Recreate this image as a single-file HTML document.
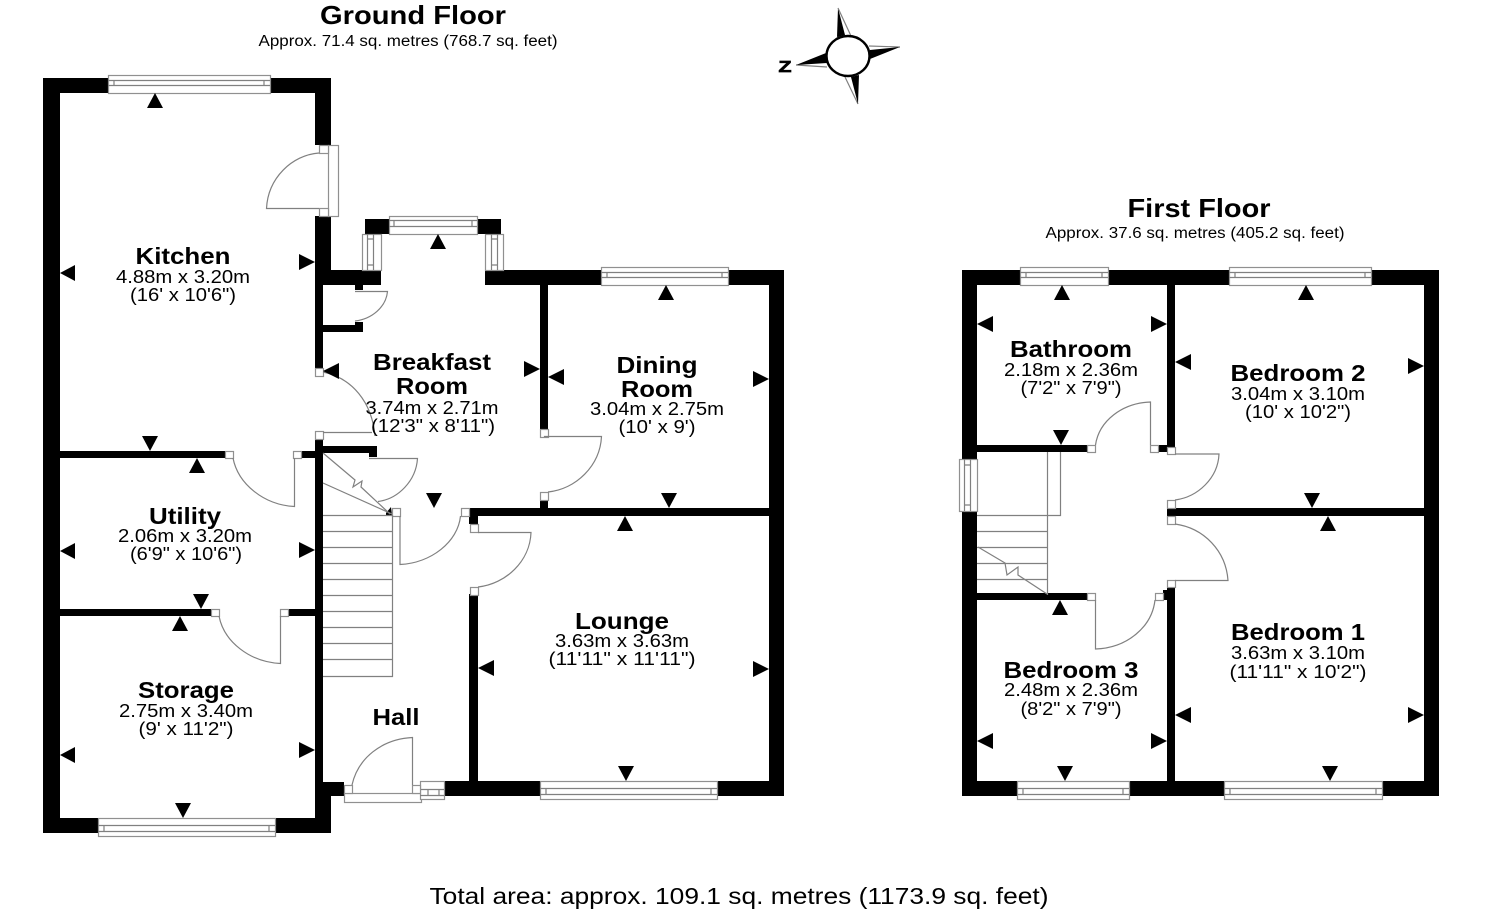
<!DOCTYPE html>
<html><head><meta charset="utf-8"><title>Floor plan</title>
<style>
html,body{margin:0;padding:0;background:#fff}
svg{display:block}
text{font-family:"Liberation Sans",Arial,sans-serif;fill:#000;text-anchor:middle}
.t{font-weight:bold;font-size:26px}
.s{font-size:15.5px}
.n{font-weight:bold;font-size:23.5px}
.d{font-size:18px}
.g{fill:none;stroke:#808080;stroke-width:1.2}
.w{fill:#fff;stroke:#909090;stroke-width:1.2}
</style></head><body>
<svg width="1488" height="912" viewBox="0 0 1488 912" xmlns="http://www.w3.org/2000/svg">
<rect width="1488" height="912" fill="#fff"/>

<!-- Ground floor walls -->
<g fill="#000">
<rect x="43" y="78" width="65" height="15"/>
<rect x="270" y="78" width="61" height="15"/>
<rect x="43" y="78" width="17" height="755"/>
<rect x="315" y="78" width="16" height="67"/>
<rect x="315" y="216" width="16" height="69"/>
<rect x="315" y="270" width="66" height="15"/>
<rect x="355" y="285" width="8" height="5"/>
<rect x="315" y="285" width="8" height="83"/>
<rect x="323" y="325" width="40" height="7"/>
<rect x="355" y="322" width="8" height="10"/>
<rect x="365" y="219" width="24" height="15"/>
<rect x="477" y="219" width="24" height="15"/>
<rect x="485" y="270" width="116" height="15"/>
<rect x="728" y="270" width="56" height="15"/>
<rect x="769" y="270" width="15" height="526"/>
<rect x="445" y="781" width="95" height="15"/>
<rect x="717" y="781" width="67" height="15"/>
<rect x="469" y="594" width="9" height="187"/>
<rect x="469" y="508" width="300" height="8"/>
<rect x="469" y="516" width="9" height="8"/>
<rect x="540" y="285" width="8" height="144"/>
<rect x="540" y="500" width="8" height="8"/>
<rect x="315" y="439" width="8" height="343"/>
<rect x="323" y="446" width="54" height="7"/>
<rect x="369" y="453" width="8" height="4"/>
<rect x="60" y="451" width="165" height="7"/>
<rect x="301" y="451" width="14" height="7"/>
<rect x="60" y="609" width="151" height="7"/>
<rect x="288" y="609" width="27" height="7"/>
<rect x="315" y="782" width="29" height="14"/>
<rect x="315" y="782" width="16" height="51"/>
<rect x="43" y="818" width="55" height="15"/>
<rect x="275" y="818" width="56" height="15"/>
<polygon points="386,513 391,507 392,515 386,515"/>
</g>

<!-- First floor walls -->
<g fill="#000">
<rect x="962" y="270" width="15" height="189"/>
<rect x="962" y="511" width="15" height="285"/>
<rect x="962" y="270" width="58" height="15"/>
<rect x="1108" y="270" width="121" height="15"/>
<rect x="1371" y="270" width="68" height="15"/>
<rect x="1424" y="270" width="15" height="526"/>
<rect x="962" y="781" width="55" height="15"/>
<rect x="1129" y="781" width="95" height="15"/>
<rect x="1382" y="781" width="57" height="15"/>
<rect x="1167" y="285" width="8" height="162"/>
<rect x="977" y="445" width="110" height="7"/>
<rect x="1158" y="445" width="9" height="7"/>
<rect x="1167" y="508" width="257" height="8"/>
<rect x="1167" y="587" width="8" height="194"/>
<rect x="1163" y="590" width="4" height="10"/>
<rect x="977" y="593" width="110" height="7"/>
</g>

<!-- Windows -->
<g class="w">
<rect x="108.500" y="75.500" width="162" height="18"/>
<rect x="389.500" y="216.500" width="88" height="18"/>
<rect x="601.500" y="267.500" width="127" height="18"/>
<rect x="540.500" y="781.500" width="177" height="18"/>
<rect x="98.500" y="818.500" width="177" height="18"/>
<rect x="1020.500" y="267.500" width="88" height="18"/>
<rect x="1229.500" y="267.500" width="142" height="18"/>
<rect x="1017.500" y="781.500" width="112" height="18"/>
<rect x="1224.500" y="781.500" width="158" height="18"/>
<rect x="959.500" y="459.500" width="18" height="52"/>
<rect x="362.500" y="234.500" width="19" height="36"/>
<rect x="485.500" y="234.500" width="18" height="36"/>
<rect x="328.500" y="145.500" width="10" height="71"/>
<rect x="344.500" y="793.500" width="77" height="9"/>
<rect x="420.500" y="781.500" width="24" height="18"/>
</g>
<g class="g">
<path d="M108 80.500H270M108 85.500H270M114 80.500V85.500M264 80.500V85.500"/>
<path d="M389 220.500H477M389 226.500H477M394 220.500V226.500M472 220.500V226.500"/>
<path d="M601 272.500H728M601 277.500H728M607 272.500V277.500M722 272.500V277.500"/>
<path d="M540 788.500H717M540 794.500H717M546 788.500V794.500M711 788.500V794.500"/>
<path d="M98 825.500H275M98 831.500H275M104 825.500V831.500M269 825.500V831.500"/>
<path d="M1020 272.500H1108M1020 277.500H1108M1026 272.500V277.500M1102 272.500V277.500"/>
<path d="M1229 272.500H1371M1229 277.500H1371M1235 272.500V277.500M1365 272.500V277.500"/>
<path d="M1017 788.500H1129M1017 794.500H1129M1023 788.500V794.500M1123 788.500V794.500"/>
<path d="M1224 788.500H1382M1224 794.500H1382M1230 788.500V794.500M1376 788.500V794.500"/>
<path d="M964.500 459V511M970.500 459V511M964.500 465H970.500M964.500 505H970.500"/>
<path d="M367.500 234V270M373.500 234V270M367.500 239H373.500M367.500 265H373.500"/>
<path d="M491.500 234V270M497.500 234V270M491.500 239H497.500M491.500 265H497.500"/>
<path d="M420 789.500H444M420 795.500H444M428 789.500V795.500M439 789.500V795.500"/>
</g>

<!-- Door jamb squares -->
<g class="w">
<rect x="319.500" y="145.500" width="9" height="8"/>
<rect x="319.500" y="208.500" width="9" height="8"/>
<rect x="315.500" y="368.500" width="8" height="8"/>
<rect x="315.500" y="431.500" width="8" height="8"/>
<rect x="392.500" y="508.500" width="8" height="8"/>
<rect x="461.500" y="508.500" width="8" height="8"/>
<rect x="470.500" y="524.500" width="8" height="8"/>
<rect x="470.500" y="587.500" width="8" height="8"/>
<rect x="540.500" y="429.500" width="8" height="8"/>
<rect x="540.500" y="492.500" width="8" height="8"/>
<rect x="225.500" y="451.500" width="8" height="7"/>
<rect x="293.500" y="451.500" width="8" height="7"/>
<rect x="211.500" y="609.500" width="8" height="7"/>
<rect x="280.500" y="609.500" width="8" height="7"/>
<rect x="344.500" y="785.500" width="8" height="8"/>
<rect x="412.500" y="785.500" width="8" height="8"/>
<rect x="1087.500" y="445.500" width="8" height="7"/>
<rect x="1150.500" y="445.500" width="8" height="7"/>
<rect x="1167.500" y="447.500" width="8" height="7"/>
<rect x="1167.500" y="500.500" width="8" height="8"/>
<rect x="1167.500" y="516.500" width="8" height="8"/>
<rect x="1167.500" y="580.500" width="8" height="7"/>
<rect x="1155.500" y="593.500" width="8" height="7"/>
<rect x="1087.500" y="593.500" width="8" height="7"/>
</g>

<!-- Door swings -->
<g class="g">
<path d="M319 208.500H266.500C268 178 292 155 319 153"/>
<path d="M355 291.500H387.500C386 307 372 319 355 321"/>
<path d="M323 372C352 378 372 402 375 436M323 432.500H372"/>
<path d="M369 458.500H417.500C416 481 398 499 378 501.500"/>
<path d="M544.500 437V436.500H601.500C600 466 576 489 548 492"/>
<path d="M478 532.500H531C530 561 506 584 478 587"/>
<path d="M400 516V564.500C431 563 458 542 460.500 516"/>
<path d="M233 458C238 484 264 505 294.500 506.500V458"/>
<path d="M219 616C224 642 250 662 280.500 663.500V616"/>
<path d="M352 785C358 758 382 739 412.500 737.500V785"/>
<path d="M1095.500 445C1099 421 1122 403 1150.500 402V445"/>
<path d="M1175 454H1219C1218 478 1198 497 1175 500"/>
<path d="M1175 524C1204 528 1226 551 1228 580.500H1175"/>
<path d="M1095.500 600V649C1127 648 1152 627 1155 600"/>
</g>

<!-- Stairs -->
<g class="g">
<path d="M392.500 515V676.500H323"/>
<path d="M323 531.500H392M323 547.500H392M323 563.500H392M323 579.500H392M323 595.500H392M323 611.500H392M323 627.500H392M323 643.500H392M323 659.500H392M323 515.500H392"/>
<path d="M323 453L355 480L353 487L362 481L361 487L390 514"/>
<path d="M323 483L392 514"/>
<path d="M1047.500 452V595M1060.500 452V515.500H977M977 531.500H1047M977 547.500H1047M977 563.500H1047M977 579.500H1047"/>
<path d="M978 547L1005 563L1007 575L1018 567L1018 575L1047 594"/>
</g>

<!-- Dimension arrows -->
<g fill="#000">
<polygon points="155,93 147,108 163,108"/>
<polygon points="60,273 75,265 75,281"/>
<polygon points="315,262 299,254 299,270"/>
<polygon points="150,451 142,436 158,436"/>
<polygon points="197,458 189,473 205,473"/>
<polygon points="60,551 75,543 75,559"/>
<polygon points="315,550 299,542 299,558"/>
<polygon points="201,609 193,594 209,594"/>
<polygon points="180,616 172,631 188,631"/>
<polygon points="60,755 75,747 75,763"/>
<polygon points="315,750 299,742 299,758"/>
<polygon points="183,818 175,803 191,803"/>
<polygon points="438,234 430,249 446,249"/>
<polygon points="323,371 339,363 339,379"/>
<polygon points="540,369 524,361 524,377"/>
<polygon points="548,377 564,369 564,385"/>
<polygon points="434,508 426,493 442,493"/>
<polygon points="666,285 658,300 674,300"/>
<polygon points="769,379 753,371 753,387"/>
<polygon points="669,508 661,493 677,493"/>
<polygon points="625,516 617,531 633,531"/>
<polygon points="478,668 494,660 494,676"/>
<polygon points="769,669 753,661 753,677"/>
<polygon points="626,781 618,766 634,766"/>
<polygon points="1062,285 1054,300 1070,300"/>
<polygon points="977,324 993,316 993,332"/>
<polygon points="1167,324 1151,316 1151,332"/>
<polygon points="1061,445 1053,430 1069,430"/>
<polygon points="1306,285 1298,300 1314,300"/>
<polygon points="1175,362 1191,354 1191,370"/>
<polygon points="1424,366 1408,358 1408,374"/>
<polygon points="1312,508 1304,493 1320,493"/>
<polygon points="1328,516 1320,531 1336,531"/>
<polygon points="1175,715 1191,707 1191,723"/>
<polygon points="1424,715 1408,707 1408,723"/>
<polygon points="1330,781 1322,766 1338,766"/>
<polygon points="1060,600 1052,615 1068,615"/>
<polygon points="977,741 993,733 993,749"/>
<polygon points="1167,741 1151,733 1151,749"/>
<polygon points="1065,781 1057,766 1073,766"/>
</g>

<!-- Compass -->
<g>
<polygon points="838,8 837,37 845,35" fill="#000"/>
<path d="M838,8L851,36M900,47L869,46M858,104L845,77M796,65L827,67" fill="none" stroke="#808080" stroke-width="1.2"/>
<polygon points="900,47 870,50 870,59" fill="#000"/>
<polygon points="858,104 859,75 851,77" fill="#000"/>
<polygon points="796,65 826,53 827,63" fill="#000"/>
<ellipse cx="848" cy="56" rx="21.500" ry="20" fill="#fff" stroke="#000" stroke-width="2.400"/>
<text x="785" y="72" style="font-weight:bold;font-size:16px;stroke:#000;stroke-width:.7" textLength="13" lengthAdjust="spacingAndGlyphs">Z</text>
</g>

<!-- Text -->
<text class="t" x="413" y="24" textLength="186" lengthAdjust="spacingAndGlyphs">Ground Floor</text>
<text class="s" x="408" y="46" textLength="299" lengthAdjust="spacingAndGlyphs">Approx. 71.4 sq. metres (768.7 sq. feet)</text>
<text class="t" x="1199" y="217" textLength="143" lengthAdjust="spacingAndGlyphs">First Floor</text>
<text class="s" x="1195" y="238" textLength="299" lengthAdjust="spacingAndGlyphs">Approx. 37.6 sq. metres (405.2 sq. feet)</text>
<text x="739" y="904" style="font-size:23px" textLength="619" lengthAdjust="spacingAndGlyphs">Total area: approx. 109.1 sq. metres (1173.9 sq. feet)</text>

<text class="n" x="183" y="264" textLength="95" lengthAdjust="spacingAndGlyphs">Kitchen</text>
<text class="d" x="183" y="283" textLength="134" lengthAdjust="spacingAndGlyphs">4.88m x 3.20m</text>
<text class="d" x="183" y="301" textLength="106" lengthAdjust="spacingAndGlyphs">(16' x 10'6")</text>

<text class="n" x="432" y="370" textLength="118" lengthAdjust="spacingAndGlyphs">Breakfast</text>
<text class="n" x="432" y="394" textLength="72" lengthAdjust="spacingAndGlyphs">Room</text>
<text class="d" x="432" y="414" textLength="133" lengthAdjust="spacingAndGlyphs">3.74m x 2.71m</text>
<text class="d" x="433" y="432" textLength="124" lengthAdjust="spacingAndGlyphs">(12'3" x 8'11")</text>

<text class="n" x="657" y="373" textLength="81" lengthAdjust="spacingAndGlyphs">Dining</text>
<text class="n" x="657" y="397" textLength="72" lengthAdjust="spacingAndGlyphs">Room</text>
<text class="d" x="657" y="415" textLength="134" lengthAdjust="spacingAndGlyphs">3.04m x 2.75m</text>
<text class="d" x="657" y="433" textLength="77" lengthAdjust="spacingAndGlyphs">(10' x 9')</text>

<text class="n" x="185" y="524" textLength="72" lengthAdjust="spacingAndGlyphs">Utility</text>
<text class="d" x="185" y="542" textLength="134" lengthAdjust="spacingAndGlyphs">2.06m x 3.20m</text>
<text class="d" x="186" y="560" textLength="112" lengthAdjust="spacingAndGlyphs">(6'9" x 10'6")</text>

<text class="n" x="186" y="698" textLength="96" lengthAdjust="spacingAndGlyphs">Storage</text>
<text class="d" x="186" y="717" textLength="134" lengthAdjust="spacingAndGlyphs">2.75m x 3.40m</text>
<text class="d" x="186" y="735" textLength="95" lengthAdjust="spacingAndGlyphs">(9' x 11'2")</text>

<text class="n" x="622" y="629" textLength="94" lengthAdjust="spacingAndGlyphs">Lounge</text>
<text class="d" x="622" y="647" textLength="134" lengthAdjust="spacingAndGlyphs">3.63m x 3.63m</text>
<text class="d" x="622" y="665" textLength="147" lengthAdjust="spacingAndGlyphs">(11'11" x 11'11")</text>

<text class="n" x="396" y="725" textLength="47" lengthAdjust="spacingAndGlyphs">Hall</text>

<text class="n" x="1071" y="357" textLength="122" lengthAdjust="spacingAndGlyphs">Bathroom</text>
<text class="d" x="1071" y="376" textLength="134" lengthAdjust="spacingAndGlyphs">2.18m x 2.36m</text>
<text class="d" x="1071" y="394" textLength="101" lengthAdjust="spacingAndGlyphs">(7'2" x 7'9")</text>

<text class="n" x="1298" y="381" textLength="135" lengthAdjust="spacingAndGlyphs">Bedroom 2</text>
<text class="d" x="1298" y="400" textLength="134" lengthAdjust="spacingAndGlyphs">3.04m x 3.10m</text>
<text class="d" x="1298" y="418" textLength="106" lengthAdjust="spacingAndGlyphs">(10' x 10'2")</text>

<text class="n" x="1298" y="640" textLength="134" lengthAdjust="spacingAndGlyphs">Bedroom 1</text>
<text class="d" x="1298" y="659" textLength="134" lengthAdjust="spacingAndGlyphs">3.63m x 3.10m</text>
<text class="d" x="1298" y="678" textLength="137" lengthAdjust="spacingAndGlyphs">(11'11" x 10'2")</text>

<text class="n" x="1071" y="678" textLength="135" lengthAdjust="spacingAndGlyphs">Bedroom 3</text>
<text class="d" x="1071" y="696" textLength="134" lengthAdjust="spacingAndGlyphs">2.48m x 2.36m</text>
<text class="d" x="1071" y="715" textLength="101" lengthAdjust="spacingAndGlyphs">(8'2" x 7'9")</text>
</svg>
</body></html>
